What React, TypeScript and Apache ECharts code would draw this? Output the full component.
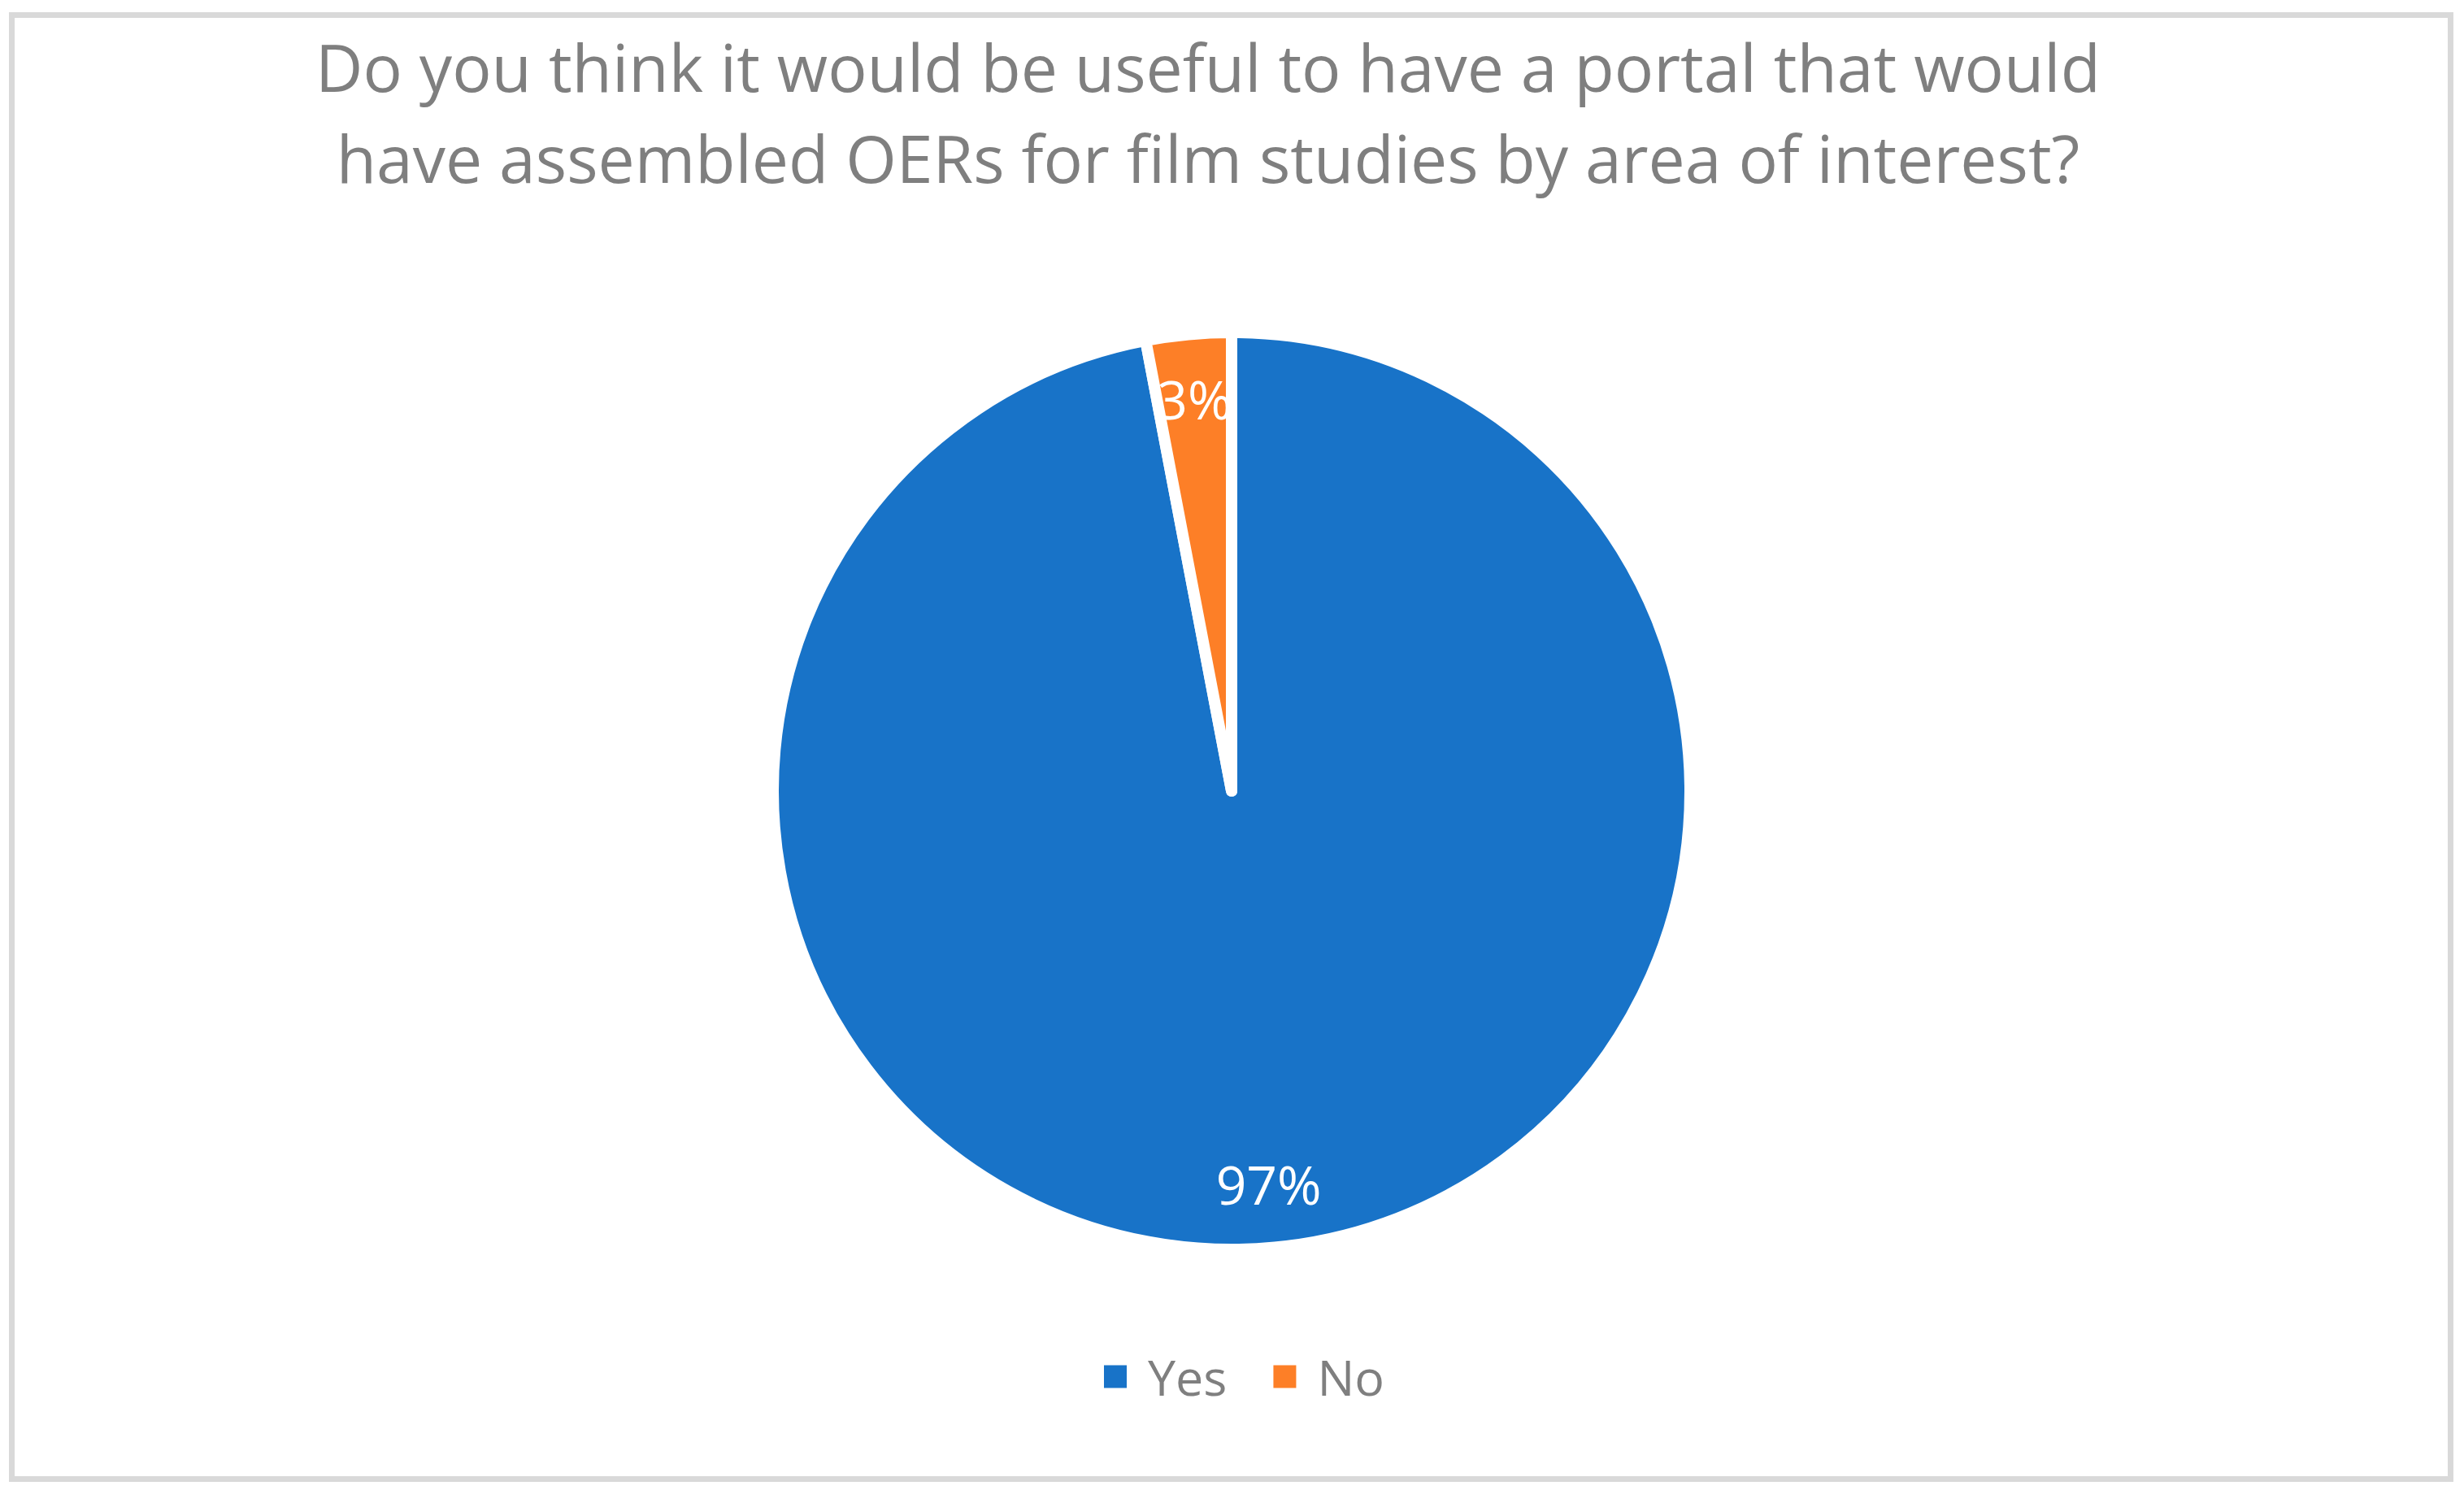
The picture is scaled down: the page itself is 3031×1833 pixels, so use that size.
import React, { useEffect, useRef } from "react";
import * as echarts from "echarts";

const titleLines = [
  "Do you think it would be useful to have a portal that would",
  "have assembled OERs for film studies by area of interest?",
];
const categories = ["Yes", "No"];
const values = [97, 3];
const colors = ["#1873C8", "#FD7F27"];

export default function App() {
  const ref = useRef<HTMLDivElement>(null);
  useEffect(() => {
    if (!ref.current) return;
    const chart = echarts.init(ref.current, undefined, { renderer: "svg" });
    const data = categories.map((name, i) => ({
      name,
      value: values[i],
      itemStyle: { color: colors[i] },
    }));
    const font = "'Open Sans', 'Noto Sans', sans-serif";
    chart.setOption({
      animation: false,
      backgroundColor: "#FFFFFF",
      title: {
        text: titleLines.join("\n"),
        left: 1481,
        top: 21,
        textAlign: "center",
        textStyle: {
          color: "#7F7F7F",
          fontSize: 80.5,
          fontWeight: "normal",
          fontFamily: font,
          lineHeight: 112,
        },
      },
      legend: {
        data: categories,
        top: 1658,
        left: 1353,
        icon: "rect",
        itemWidth: 28,
        itemHeight: 28,
        itemGap: 57,
        itemStyle: { borderWidth: 0 },
        textStyle: { color: "#7F7F7F", fontSize: 61, fontFamily: font, padding: [0, 0, 0, 21] },
      },
      graphic: [
        {
          type: "rect",
          shape: { x: 14.5, y: 18.5, width: 3000, height: 1801 },
          style: { fill: "none", stroke: "#D9D9D9", lineWidth: 7 },
          silent: true,
        },
      ],
      series: [
        {
          type: "pie",
          center: [1515, 973],
          radius: 564,
          startAngle: 90,
          clockwise: true,
          data,
          label: { show: false },
          labelLine: { show: false },
          itemStyle: { borderColor: "#FFFFFF", borderWidth: 14, borderJoin: "round" },
          emphasis: { disabled: true },
        },
        {
          type: "pie",
          center: [1515, 973],
          radius: [400, 564],
          startAngle: 90,
          clockwise: true,
          silent: true,
          legendHoverLink: false,
          data: categories.map((name, i) => ({ name, value: values[i] })),
          itemStyle: { color: "rgba(0,0,0,0)" },
          label: {
            show: true,
            position: "inside",
            formatter: "{d}%",
            color: "#FFFFFF",
            fontSize: 66,
            fontFamily: font,
          },
          labelLine: { show: false },
          emphasis: { disabled: true },
        },
      ],
    });
    return () => chart.dispose();
  }, []);
  return (
    <div
      ref={ref}
      style={{ position: "fixed", left: 0, top: 0, width: 3031, height: 1833 }}
    />
  );
}
